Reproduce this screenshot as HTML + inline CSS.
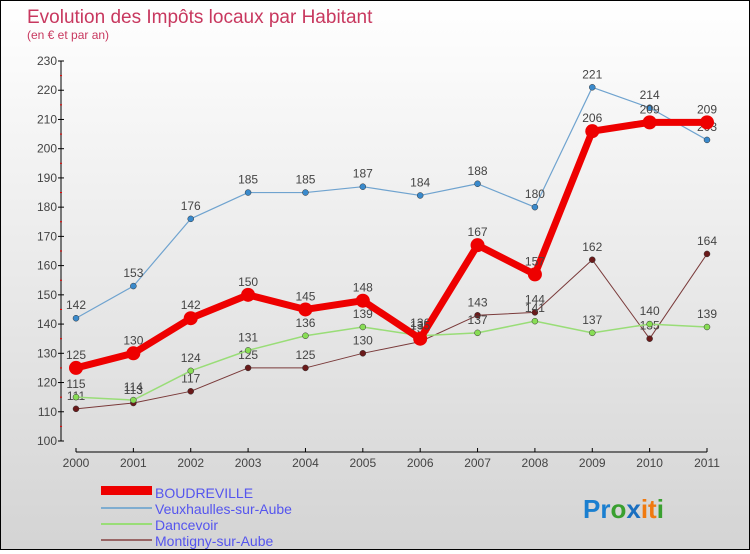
<!DOCTYPE html>
<html><head><meta charset="utf-8"><style>
body{margin:0}
#c{width:748px;height:548px;border:1px solid #000;background:linear-gradient(#ffffff,#d4d4d4);position:relative;font-family:"Liberation Sans",sans-serif}
</style></head><body>
<div id="c">
<svg id="s" width="748" height="548">
<text x="26" y="22" font-size="19" fill="#c8385f">Evolution des Impôts locaux par Habitant</text>
<text x="26" y="38" font-size="12" fill="#c8385f">(en € et par an)</text>
<g id="axes"></g><g id="series"></g>
<g>
<rect x="100" y="485" width="51" height="9" fill="#e00"/>
<text x="154" y="497" font-size="14" fill="#5555ee">BOUDREVILLE</text>
<rect x="100" y="506" width="51" height="2" fill="#7fadd0"/>
<text x="154" y="513" font-size="14" fill="#5555ee">Veuxhaulles-sur-Aube</text>
<rect x="100" y="522" width="51" height="2" fill="#99dd77"/>
<text x="154" y="529" font-size="14" fill="#5555ee">Dancevoir</text>
<rect x="100" y="538" width="51" height="2" fill="#996666"/>
<text x="154" y="545" font-size="14" fill="#5555ee">Montigny-sur-Aube</text>
</g>
<text x="582" y="517" font-size="26" font-weight="bold"><tspan fill="#1a7fd0">Pr</tspan><tspan fill="#3aa030">o</tspan><tspan fill="#1a6fc0">x</tspan><tspan fill="#f07a10">it</tspan><tspan fill="#3aa030">i</tspan></text>
</svg></div>
<script>
const years=["2000","2001","2002","2003","2004","2005","2006","2007","2008","2009","2010","2011"];
const yTicks=[100,110,120,130,140,150,160,170,180,190,200,210,220,230];
const boudreville=[125,130,142,150,145,148,135,167,157,206,209,209];
const veuxhaulles=[142,153,176,185,185,187,184,188,180,221,214,203];
const dancevoir=[115,114,124,131,136,139,136,137,141,137,140,139];
const montigny=[111,113,117,125,125,130,134,143,144,162,135,164];
const NS="http://www.w3.org/2000/svg";
const X=i=>75+i*(631/11);
const Y=v=>440-(v-100)*(380/130);
function mk(t,a,p){const e=document.createElementNS(NS,t);for(const k in a)e.setAttribute(k,a[k]);p.appendChild(e);return e;}
const ax=document.getElementById('axes');
let l=mk('line',{x1:60,y1:60,x2:60,y2:440,stroke:'#000'},ax);


l=mk('line',{x1:75,y1:451,x2:706,y2:451,stroke:'#000'},ax);


yTicks.forEach((v,i)=>{
 mk('line',{x1:57,y1:Y(v),x2:63,y2:Y(v),stroke:'#000'},ax);
 if(i<yTicks.length-1) mk('line',{x1:59,y1:Y(v+5),x2:61,y2:Y(v+5),stroke:'#e00'},ax);
 const t=mk('text',{x:56,y:Y(v)+4,'font-size':12,fill:'#444','text-anchor':'end'},ax);t.textContent=v;
 
 
});
years.forEach((y,i)=>{
 mk('line',{x1:X(i),y1:447,x2:X(i),y2:451,stroke:'#000'},ax);
 const t=mk('text',{x:X(i),y:466,'font-size':12,fill:'#444','text-anchor':'middle'},ax);t.textContent=y;
 
 
});
const sg=document.getElementById('series');
function draw(data,color,w,r,dot,name,labelBelow){
 const g=mk('g',{},sg);
 
 
 const pl=mk('polyline',{points:data.map((v,i)=>X(i)+','+Y(v)).join(' '),fill:'none',stroke:color,'stroke-width':w,'stroke-linejoin':'round'},g);
 
 
 data.forEach((v,i)=>{
  const c=mk('circle',{cx:X(i),cy:Y(v),r:r,fill:dot,stroke:'#333','stroke-width':r>4?0:0.5},g);
  
  
  const t=mk('text',{x:X(i),y:Y(v)-9,'font-size':12,fill:'#444','text-anchor':'middle'},g);t.textContent=v;
  
  
 });
}
draw(montigny,'#7a3a3a',1,3,'#6a1a1a','montigny');
draw(dancevoir,'#99dd77',1.5,3,'#88dd55','dancevoir');
draw(veuxhaulles,'#6fa3cf',1.2,3,'#3a8acc','veuxhaulles');
draw(boudreville,'#ee0000',7,7,'#ee0000','boudreville');
</script>
</body></html>
